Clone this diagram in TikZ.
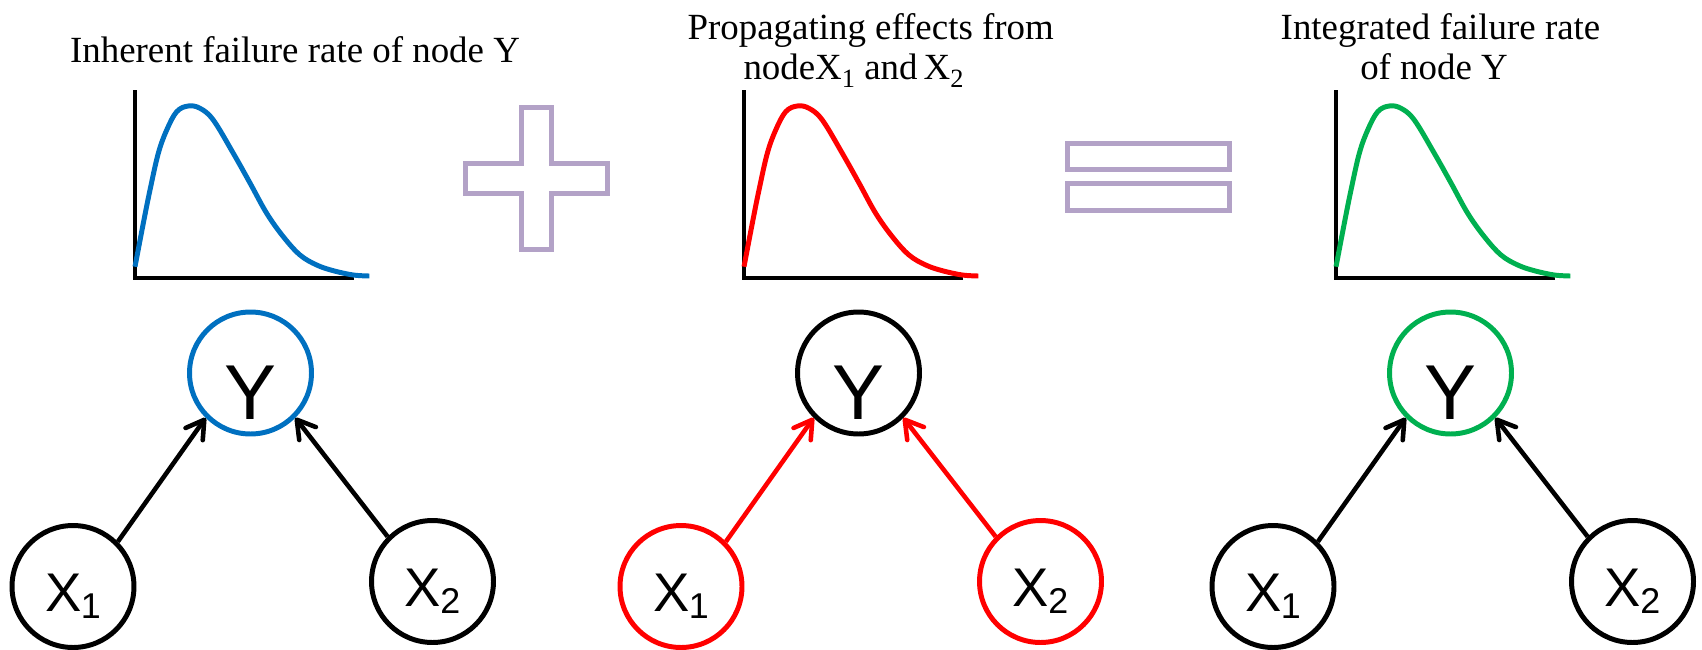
\documentclass[tikz,border=0pt]{standalone}
\usepackage{fontspec}
\setmainfont{Liberation Serif}
\newfontfamily\arialfont{Liberation Sans}
\usetikzlibrary{arrows.meta}
\definecolor{cblue}{HTML}{0070C0}
\definecolor{cred}{HTML}{FF0000}
\definecolor{cgreen}{HTML}{00B050}
\definecolor{clav}{HTML}{B3A2C7}
\newcommand\Ylab{\raisebox{-26.2pt}[0pt][0pt]{\fontsize{44.3}{44}\selectfont Y}}
\newcommand\Xlab[1]{\raisebox{-14.3pt}[0pt][0pt]{\fontsize{31}{31}\selectfont X\kern-0.5pt\raisebox{-3.7pt}{\fontsize{20.4}{20}\selectfont #1}}}
\newcommand\tsub[1]{\raisebox{-4.4pt}{\fontsize{15}{15}\selectfont #1}}
\newcommand\ratecurve[3]{%
  \begin{scope}[shift={(#1,#2)}, yscale=-1]
    \draw[axisline] (0,188) -- (0,0) -- (219,0);
    \draw[curveline, draw=#3] plot[smooth, tension=0.6] coordinates {(0,11.3) (8.3,54.7) (15,88) (23.3,124.7) (31.7,148) (41.7,166.3) (53.3,172) (65,169.7) (78.3,158) (98.3,124.7) (115,95) (131.7,64.7) (148.3,41.3) (165,23) (181.7,13) (198.3,7.3) (218.3,3) (234.3,2)};
  \end{scope}}
\tikzset{
  ttl/.style={font=\fontsize{21}{23.2}\selectfont, inner sep=0pt, anchor=base},
  gnode/.style={circle, draw, line width=2.83pt, minimum size=2.44cm, inner sep=0pt, font=\arialfont},
  conn/.style={line width=2.6pt, -{Straight Barb[length=10pt,width=12pt,round]}},
  axisline/.style={line width=2.3pt, line join=miter, draw=black},
  curveline/.style={line width=2.83pt},
  opsign/.style={draw=clav, line width=2.9pt},
}
\begin{document}
\begin{tikzpicture}[x=0.02cm, y=-0.02cm]
\useasboundingbox (0,0) rectangle (1702,649);
% titles
\node[ttl] (t1) at (295,62.3) {Inherent failure rate of node Y};
\node[ttl] (t2a) at (870.7,39.3) {Propagating effects from};
\node[ttl] (t2b) at (853.5,79.5) {nodeX\tsub{1} and\,X\tsub{2}};
\node[ttl] (t3a) at (1440.5,39.3) {Integrated failure rate};
\node[ttl] (t3b) at (1434,79.5) {of node Y};
% curves
\ratecurve{135}{278}{cblue}
\ratecurve{744}{278}{cred}
\ratecurve{1336}{278}{cgreen}
% plus sign
\draw[opsign] (521.5,107.5) -- (551.5,107.5) -- (551.5,163.5) -- (607.5,163.5) -- (607.5,193.5) -- (551.5,193.5) -- (551.5,249.5) -- (521.5,249.5) -- (521.5,193.5) -- (465.5,193.5) -- (465.5,163.5) -- (521.5,163.5) -- cycle;
% equals sign
\draw[opsign] (1067.5,143.2) rectangle (1229.2,169.8);
\draw[opsign] (1067.5,183.5) rectangle (1229.2,210.8);
% panel 1 graph
\node[gnode, draw=cblue] (y1) at (250.5,373) {\Ylab};
\node[gnode] (a1) at (73,586.5) {\Xlab{1}};
\node[gnode] (b1) at (432.5,581.5) {\Xlab{2}};
\draw[conn] (a1.45) -- (y1.225);
\draw[conn] (b1.135) -- (y1.315);
% panel 2 graph
\node[gnode] (y2) at (858.5,373) {\Ylab};
\node[gnode, draw=cred] (a2) at (681,586.5) {\Xlab{1}};
\node[gnode, draw=cred] (b2) at (1040.5,581.5) {\Xlab{2}};
\draw[conn, draw=cred] (a2.45) -- (y2.225);
\draw[conn, draw=cred] (b2.135) -- (y2.315);
% panel 3 graph
\node[gnode, draw=cgreen] (y3) at (1450.5,373) {\Ylab};
\node[gnode] (a3) at (1273,586.5) {\Xlab{1}};
\node[gnode] (b3) at (1632.5,581.5) {\Xlab{2}};
\draw[conn] (a3.45) -- (y3.225);
\draw[conn] (b3.135) -- (y3.315);
\end{tikzpicture}
\end{document}
